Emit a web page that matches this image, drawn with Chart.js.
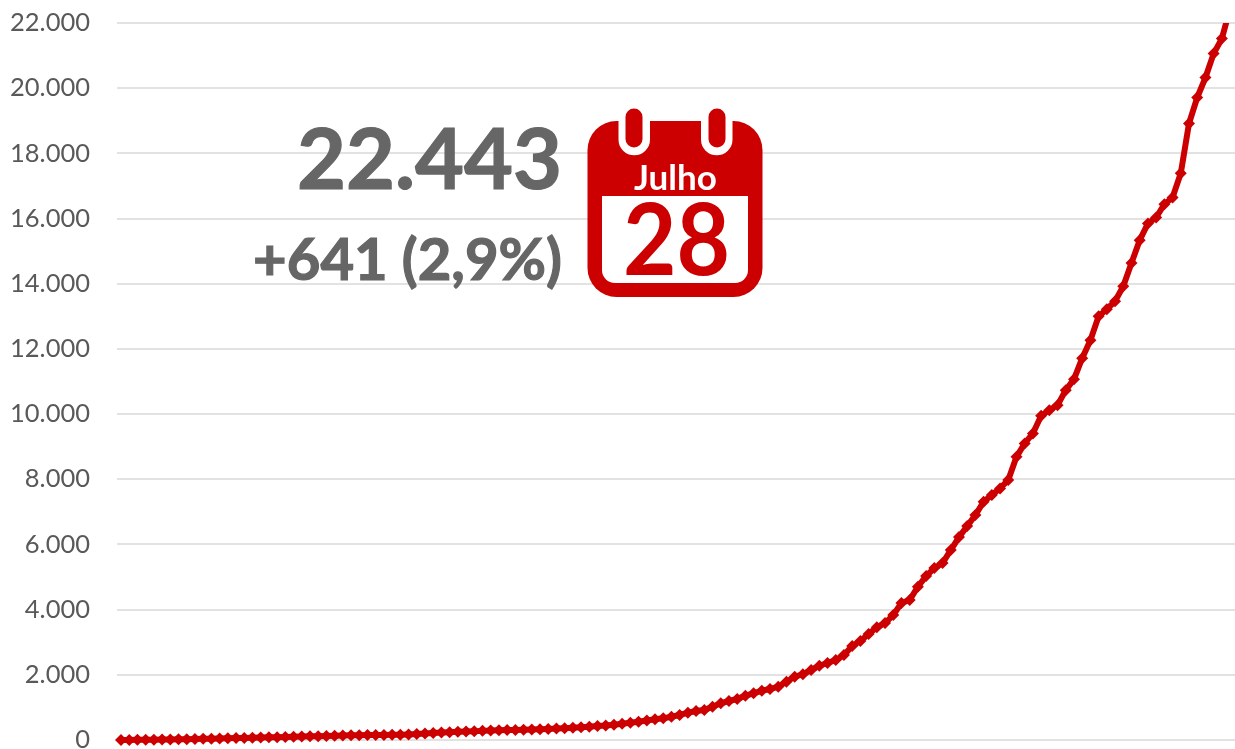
<!DOCTYPE html>
<html lang="pt">
<head>
<meta charset="utf-8">
<title>Casos acumulados</title>
<script src="https://cdn.jsdelivr.net/npm/chart.js@4"></script>
<style>
html,body{margin:0;padding:0;background:#fff;overflow:hidden}
#wrap{position:relative;width:1235px;height:749px;overflow:hidden}
canvas{position:absolute;left:0;top:0}
.big{position:absolute;font-family:Lato,sans-serif;font-weight:700;color:#666;white-space:nowrap;line-height:1;-webkit-text-stroke:1.2px #666}
#total{top:115px;font-size:84.5px;right:673px}
#delta{top:229px;font-size:58px;right:673px}
svg{position:absolute;left:0;top:0}
</style>
</head>
<body>
<div id="wrap">
<canvas id="c" width="1235" height="749"></canvas>
<div class="big" id="total">22.443</div>
<div class="big" id="delta">+641 (2,9%)</div>
<svg width="1235" height="749" xmlns="http://www.w3.org/2000/svg">
  <rect x="587.500" y="121" width="175" height="176" rx="29" fill="#cc0000"/>
  <path d="M602 196H748V270a13 13 0 0 1 -13 13H615a13 13 0 0 1 -13 -13Z" fill="#fff"/>
  <path d="M618.500 110H650V139.500a15.750 15.750 0 0 1 -31.500 0Z" fill="#fff"/>
  <path d="M701 110H732.500V139.500a15.750 15.750 0 0 1 -31.500 0Z" fill="#fff"/>
  <rect x="625.500" y="108.500" width="17" height="39" rx="8.500" fill="#cc0000"/>
  <rect x="708.500" y="108.500" width="17" height="39" rx="8.500" fill="#cc0000"/>
  <text x="675.500" y="189.500" text-anchor="middle" font-family="Lato,sans-serif" font-weight="700" font-size="35" fill="#fff">Julho</text>
  <text x="623" y="275" textLength="107" lengthAdjust="spacingAndGlyphs" font-family="Lato,sans-serif" font-weight="700" font-size="100" fill="#cc0000">28</text>
</svg>
</div>
<script>
const tickValues = [0,2000,4000,6000,8000,10000,12000,14000,16000,18000,20000,22000];
const casesEarly = [1,2,4,6,9,12,16,20,25,30,35,40,46,52,58,64,70,76,82,88,94,100,106,112,118,124,130,136,142,148,152,155,157,159,160,172,185,200,215,228,240,250,258,268,280,290,300,305,310,316,322,330,338,350,362,375,390,410,430,445,470,500,530,560,600];
const casesMid = [635,665,715,767,837,889,920,1021,1126,1196,1257,1359,1432,1512,1564,1635,1788,1941,2015,2147,2279,2362,2454,2607,2883,3036,3251,3457,3588,3834,4202,4294,4702,5030,5275,5429];
const casesLate = [5827,6226,6563,6901,7309,7514,7720,7974,8689,9100,9407,9946,10121,10275,10735,11072,11716,12268,13004,13219,13464,13924,14639,15335,15847,16031,16439,16644,17390,18914,19711,20325,21061,21521,22443];
const cases = casesEarly.concat(casesMid, casesLate);
const RED = '#cc0000';
const fmt = v => String(v).replace(/\B(?=(\d{3})+$)/g, '.');

new Chart(document.getElementById('c'), {
  type: 'line',
  data: { datasets: [{
    data: cases.map((v,i)=>({x:i,y:v})),
    borderColor: RED, backgroundColor: RED, borderWidth: 6,
    pointStyle: 'rectRot', pointRadius: 6, pointBorderWidth: 0, pointBackgroundColor: RED,
    tension: 0, clip: {left:12,right:12,top:0,bottom:12}
  }]},
  options: {
    responsive: false, animation: false,
    layout: { autoPadding: false, padding: {top:23,bottom:9,left:0,right:0} },
    plugins: { legend:{display:false}, tooltip:{enabled:false}, title:{display:false} },
    scales: {
      x: { type:'linear', min:-0.49, max:135.6, display:false, grid:{display:false} },
      y: {
        min:0, max:22000,
        afterBuildTicks: a => { a.ticks = tickValues.map(v=>({value:v})); },
        afterFit: a => { a.width = 117; a.paddingTop = 0; a.paddingBottom = 0; },
        border:{display:false},
        grid:{color:'#e2e2e2', lineWidth:2, drawTicks:false},
        ticks:{ padding:27, color:'#595959', font:{family:'Lato, sans-serif',size:25.5}, callback:v=>fmt(v) }
      }
    }
  }
});
</script>
</body>
</html>
